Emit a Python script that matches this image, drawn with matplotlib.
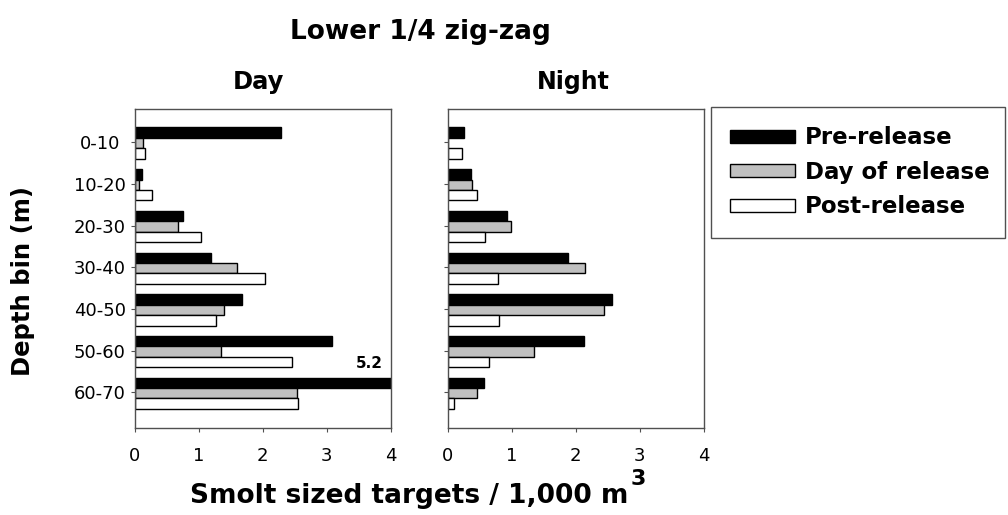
import matplotlib
matplotlib.use("Agg")
import matplotlib.pyplot as plt
from matplotlib.patches import Patch
import numpy as np

plt.rcParams["font.family"] = ["DejaVu Sans"]

# data ----------------------------------------------------------------------
depth_bins = ["0-10", "10-20", "20-30", "30-40", "40-50", "50-60", "60-70"]
series = ["Pre-release", "Day of release", "Post-release"]

day_pre = [2.29, 0.11, 0.75, 1.19, 1.68, 3.08, 5.2]
day_dor = [0.13, 0.07, 0.67, 1.59, 1.40, 1.34, 2.53]
day_post = [0.16, 0.27, 1.03, 2.03, 1.27, 2.45, 2.55]

night_pre = [0.25, 0.36, 0.93, 1.87, 2.56, 2.12, 0.57]
night_dor = [0.0, 0.38, 0.99, 2.14, 2.44, 1.34, 0.46]
night_post = [0.22, 0.45, 0.58, 0.78, 0.80, 0.65, 0.10]

x_ticks = [0, 1, 2, 3, 4]

# style ---------------------------------------------------------------------
FILLS = ["black", "#c0c0c0", "white"]
OFFS = [-0.23, 0.02, 0.27]
BAR_H = 0.25
SPINE = "#505050"

W, H = 1008, 515
fig = plt.figure(figsize=(W / 100, H / 100), dpi=100)
fig.patch.set_facecolor("white")

def px_axes(x0, y0, x1, y1):
    return fig.add_axes([x0 / W, 1 - y1 / H, (x1 - x0) / W, (y1 - y0) / H])

ax_d = px_axes(135, 108.5, 390.7, 428.3)
ax_n = px_axes(447.7, 108.5, 704, 428.3)

y = np.arange(len(depth_bins))
for ax, vals in [(ax_d, [day_pre, day_dor, day_post]),
                 (ax_n, [night_pre, night_dor, night_post])]:
    for v, off, fc in zip(vals, OFFS, FILLS):
        ax.barh(y + off, v, height=BAR_H, color=fc, edgecolor="black",
                linewidth=1.0)
    ax.set_xlim(0, 4)
    ax.set_ylim(6.86, -0.81)
    ax.set_xticks(x_ticks)
    ax.set_xticklabels([str(t) for t in x_ticks], fontsize=13)
    ax.set_yticks(y)
    for s in ax.spines.values():
        s.set_color(SPINE)
        s.set_linewidth(1.0)
    ax.tick_params(axis="both", direction="out", length=3, width=0.8,
                   color=SPINE)
    ax.tick_params(axis="x", pad=10.5)

ax_d.set_yticklabels(depth_bins, fontsize=13, ha="center")
ax_d.tick_params(axis="y", pad=22.5)
ax_n.set_yticklabels([])

ax_d.text(3.875, 5.30, "5.2", ha="right", va="center", fontsize=11,
          fontweight="bold")

# titles / labels -------------------------------------------------------------
fig.text(420 / W, 1 - 32 / H, "Lower 1/4 zig-zag", ha="center", va="center",
         fontsize=19, fontweight="bold")
fig.text(258 / W, 1 - 82 / H, "Day", ha="center", va="center",
         fontsize=17.5, fontweight="bold")
fig.text(573 / W, 1 - 82 / H, "Night", ha="center", va="center",
         fontsize=17, fontweight="bold")
fig.text(23 / W, 1 - 281 / H, "Depth bin (m)", ha="center", va="center",
         rotation=90, fontsize=17.5, fontweight="bold")
fig.text(628 / W, 1 - 496 / H, "Smolt sized targets / 1,000 m", ha="right",
         va="center", fontsize=19, fontweight="bold")
fig.text(631 / W, 1 - 479 / H, "3", ha="left", va="center",
         fontsize=16, fontweight="bold")

# legend ----------------------------------------------------------------------
handles = [Patch(facecolor=fc, edgecolor="black", linewidth=1.0) for fc in FILLS]
leg = fig.legend(handles, series, loc="upper left",
                 bbox_to_anchor=(711 / W, 1 - 107 / H, 294 / W, 0.0),
                 mode="expand", borderaxespad=0,
                 prop={"size": 16.5, "weight": "bold"},
                 handlelength=2.8, handleheight=0.52, handletextpad=0.45,
                 borderpad=0.85, labelspacing=0.5, fancybox=False,
                 framealpha=1, edgecolor=SPINE)
leg.get_frame().set_linewidth(1.0)

fig.savefig("out.png", dpi=100, facecolor="white")
